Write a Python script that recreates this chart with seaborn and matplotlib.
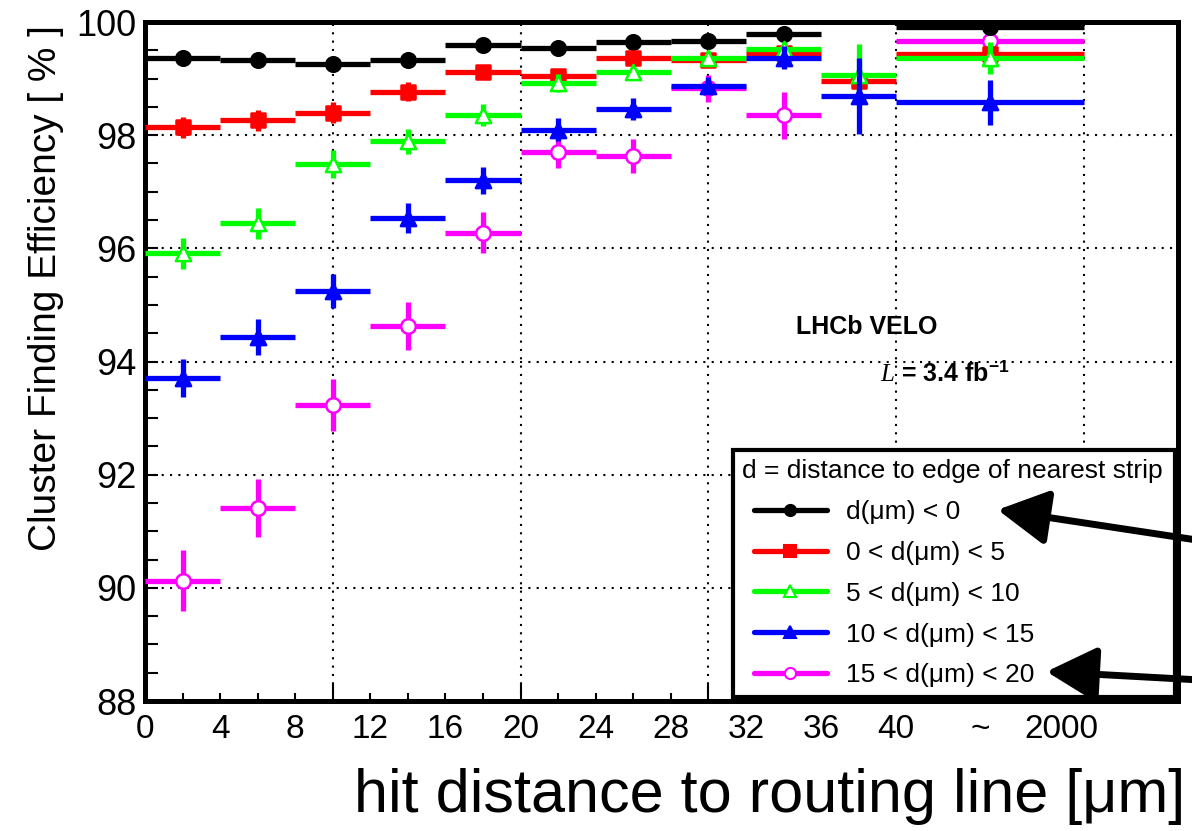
import numpy as np
import matplotlib
matplotlib.use("Agg")
import matplotlib.pyplot as plt
import seaborn as sns
from matplotlib.lines import Line2D
from matplotlib.legend_handler import HandlerLine2D
from matplotlib.ticker import MultipleLocator, NullFormatter

# ---------------- data ----------------
bin_edges = [0, 4, 8, 12, 16, 20, 24, 28, 32, 36, 40, 50]
xtick_pos = [0, 4, 8, 12, 16, 20, 24, 28, 32, 36, 40, 44.5, 48.8]
xtick_labels = ["0", "4", "8", "12", "16", "20", "24", "28", "32", "36", "40", "~", "2000"]

labels = ["d(\u03bcm) < 0", "0 < d(\u03bcm) < 5", "5 < d(\u03bcm) < 10",
          "10 < d(\u03bcm) < 15", "15 < d(\u03bcm) < 20"]

eff_black = [99.37, 99.33, 99.25, 99.33, 99.60, 99.54, 99.64, 99.66, 99.79, np.nan, 99.92]
err_black = [0.04, 0.04, 0.04, 0.04, 0.04, 0.04, 0.04, 0.04, 0.05, np.nan, 0.08]

eff_red = [98.14, 98.26, 98.40, 98.77, 99.11, 99.04, 99.36, 99.33, 99.45, 98.95, 99.44]
err_red = [0.19, 0.19, 0.19, 0.17, 0.10, 0.10, 0.10, 0.10, 0.10, 0.20, 0.15]

eff_green = [95.91, 96.44, 97.49, 97.89, 98.36, 98.92, 99.12, 99.36, 99.52, 99.07, 99.36]
err_green = [0.28, 0.27, 0.25, 0.22, 0.20, 0.16, 0.10, 0.12, 0.12, 0.55, 0.28]

eff_blue = [93.71, 94.44, 95.24, 96.54, 97.20, 98.10, 98.46, 98.87, 99.37, 98.69, 98.58]
err_blue = [0.34, 0.32, 0.30, 0.26, 0.24, 0.20, 0.20, 0.15, 0.20, 0.67, 0.40]

eff_magenta = [90.13, 91.41, 93.24, 94.63, 96.28, 97.70, 97.63, 98.83, 98.35, np.nan, 99.66]
err_magenta = [0.54, 0.51, 0.46, 0.43, 0.36, 0.28, 0.30, 0.24, 0.41, np.nan, 0.28]

series = [
    # (eff, err, color, marker, filled, label index, zorder)
    (eff_magenta, err_magenta, "#ff00ff", "o", False, 4, 3),
    (eff_black, err_black, "#000000", "o", True, 0, 4),
    (eff_red, err_red, "#ff0000", "s", True, 1, 5),
    (eff_green, err_green, "#00ff00", "^", False, 2, 6),
    (eff_blue, err_blue, "#0000ff", "^", True, 3, 7),
]
legend_order = [0, 1, 2, 3, 4]

# ---------------- style ----------------
sns.set_style("white")
plt.rcParams["font.family"] = ["Liberation Sans", "DejaVu Sans"]
plt.rcParams["mathtext.fontset"] = "custom"
plt.rcParams["mathtext.it"] = "Liberation Serif:italic"
plt.rcParams["mathtext.rm"] = "Liberation Sans"
plt.rcParams["mathtext.bf"] = "Liberation Sans:bold"
for k in ["text.color", "axes.labelcolor", "xtick.color", "ytick.color",
          "legend.labelcolor"]:
    plt.rcParams[k] = "black"

fig = plt.figure(figsize=(11.92, 8.31), dpi=100)
ax = fig.add_axes([0.1216, 0.1564, 0.8666, 0.8171])

edges = np.array(bin_edges, dtype=float)
centers = (edges[:-1] + edges[1:]) / 2
halfw = np.diff(edges) / 2

for eff, err, c, mk, filled, li, z in series:
    y = np.array(eff, dtype=float)
    e = np.array(err, dtype=float)
    m = ~np.isnan(y)
    ax.errorbar(centers[m], y[m], xerr=halfw[m], yerr=e[m], fmt="none",
                ecolor=c, elinewidth=3.8, capsize=0, zorder=z)
    sns.scatterplot(x=centers[m], y=y[m], ax=ax, marker=mk, s=110 if mk != "^" else 120,
                    color=(c if filled else "white"), edgecolor=c,
                    linewidth=1.8, zorder=z + 0.5, legend=False)

ax.set_xlim(0, 55)
ax.set_ylim(88, 100)

# axes frame
for s in ax.spines.values():
    s.set_linewidth(3.6)
    s.set_color("black")

# x ticks: long at 10s, short every 2; labels via secondary axis
ax.xaxis.set_major_locator(MultipleLocator(10))
ax.xaxis.set_minor_locator(MultipleLocator(2))
ax.xaxis.set_major_formatter(NullFormatter())
ax.yaxis.set_major_locator(MultipleLocator(2))
ax.yaxis.set_minor_locator(MultipleLocator(0.5))
ax.tick_params(axis="x", which="major", direction="in", length=12, width=1.5,
               bottom=True, top=False, color="black")
ax.tick_params(axis="x", which="minor", direction="in", length=6, width=1.5,
               bottom=True, top=False, color="black")
ax.tick_params(axis="y", which="both", direction="in", length=9, width=1.5,
               left=True, right=False, labelsize=26, pad=6, color="black")

sec = ax.secondary_xaxis("bottom")
sec.set_xticks(xtick_pos, labels=xtick_labels)
sec.tick_params(length=0, labelsize=24, pad=9, colors="black")
sec.spines["bottom"].set_visible(False)

ax.grid(True, which="major", color="black", linestyle=(0, (1, 3)), linewidth=1.5)

ax.set_ylabel("Cluster Finding Efficiency [ % ]", fontsize=28, color="black")
ax.yaxis.set_label_coords(-0.078, 0.608)

fig.text(0.994, 0.041, "hit distance to routing line [\u03bcm]", fontsize=44,
         ha="right", va="center", color="black")

# annotations
ax.text(0.699, 0.551, "LHCb VELO", transform=ax.transAxes, fontsize=18,
        fontweight="bold", ha="center", va="center")
ax.text(0.7115, 0.483, r"$\mathit{L}$ = 3.4 fb$^{\mathbf{-1}}$", transform=ax.transAxes,
        fontsize=18, fontweight="bold", ha="left", va="center")

# legend
handles = []
for li in legend_order:
    eff, err, c, mk, filled, _, _ = [s for s in series if s[5] == li][0]
    handles.append(Line2D([], [], color=c, lw=3.8, marker=mk, markersize=8,
                          markerfacecolor=(c if filled else "white"),
                          markeredgecolor=c, markeredgewidth=1.5))
leg = ax.legend(handles, [labels[i] for i in legend_order],
                title="d = distance to edge of nearest strip",
                loc="lower left", bbox_to_anchor=(0.569, 0.006, 0.428, 0.371),
                mode="expand", borderaxespad=0, fontsize=19, title_fontsize=19,
                handlelength=3.2, handletextpad=0.72, labelspacing=0.64,
                borderpad=0.36, fancybox=False, framealpha=1, alignment="left",
                handler_map={Line2D: HandlerLine2D(xpad=0.45)})
leg.get_frame().set_edgecolor("black")
leg.get_frame().set_linewidth(3)
leg.set_zorder(10)

# arrows pointing at legend entries
arrow_kw = dict(arrowstyle="-|>,head_length=1.1,head_width=0.6", lw=5,
                color="black", mutation_scale=28, shrinkA=0, shrinkB=0)
ax.annotate("", xy=(45.4, 91.38), xytext=(58.5, 90.72), arrowprops=arrow_kw,
            annotation_clip=False, zorder=11)
ax.annotate("", xy=(48.0, 88.52), xytext=(58.5, 88.33), arrowprops=arrow_kw,
            annotation_clip=False, zorder=11)

fig.savefig("out.png", dpi=100)
